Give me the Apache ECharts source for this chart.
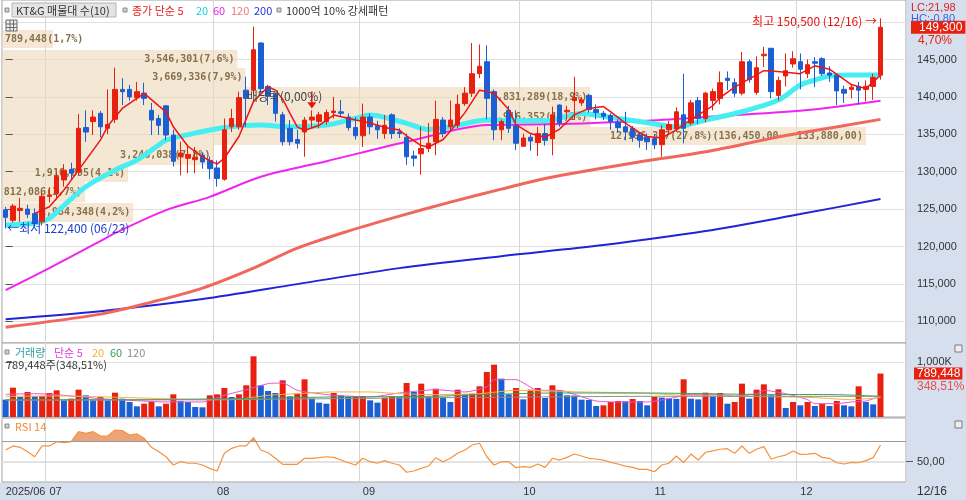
<!DOCTYPE html>
<html><head><meta charset="utf-8">
<script src="https://cdn.jsdelivr.net/npm/echarts@6/dist/echarts.min.js"></script>
<style>html,body{margin:0;padding:0;background:#fff}#c{width:966px;height:500px}</style>
</head><body><div id="c"></div>
<script>
// ---------- DATA ----------
const tradingDays = [
  ['2025/06', [23,24,25,26,27,30]],
  ['2025/07', [1,2,3,4,7,8,9,10,11,14,15,16,17,18,21,22,23,24,25,28,29,30,31]],
  ['2025/08', [1,4,5,6,7,8,11,12,13,14,18,19,20,21,22,25,26,27,28,29]],
  ['2025/09', [1,2,3,4,5,8,9,10,11,12,15,16,17,18,19,22,23,24,25,26,29,30]],
  ['2025/10', [1,2,10,13,14,15,16,17,20,21,22,23,24,27,28,29,30,31]],
  ['2025/11', [3,4,5,6,7,10,11,12,13,14,17,18,19,20,21,24,25,26,27,28]],
  ['2025/12', [1,2,3,4,5,8,9,10,11,12,15,16]]
];
const dates = tradingDays.flatMap(([m, ds]) => ds.map(d => m + '/' + String(d).padStart(2, '0')));

const openP = [124900,123500,124800,125000,124400,123300,126700,127100,128900,130300,
130000,135900,136700,137800,135800,137000,141000,141000,139900,140500,
138200,137100,138800,134900,132000,131800,131600,132200,131500,130500,
129000,136000,136000,140900,140900,147200,141400,140400,137600,135800,
134300,135300,136900,136700,136700,137900,138000,137300,135900,134800,
137300,136200,135100,137600,135300,134600,132100,132400,133100,134000,
136900,136000,136200,139100,140500,143100,144700,140700,135600,138200,
136200,133400,134600,133900,135100,134400,138900,138000,139500,139200,
140200,138300,137800,137500,136600,136000,135800,134900,134600,134400,
133600,135600,135700,137600,136500,139500,137100,139500,139800,142500,
141900,140500,144700,140600,145500,146500,140200,142800,144400,144700,
143100,144700,145100,143200,142900,141000,141000,141400,141000,141400,142900];
const closeP = [123900,125400,125100,124300,123100,126700,126900,129400,130200,129800,
135800,135300,137300,136000,136300,141000,140700,140000,140700,139800,
136900,136200,134900,131400,132500,132300,131900,131300,130400,129100,
135600,137100,139900,139800,146300,141100,140100,137800,134000,134000,
133800,136900,137300,137600,137900,138100,137800,135900,134800,137300,
136000,135600,136200,135100,135100,132000,131800,133100,133800,137000,
135100,136900,139000,140500,143100,144100,139800,135600,136700,135800,
133800,134500,134100,135100,134200,137600,136500,138200,139900,139600,
138300,137900,137400,136700,135900,135300,134600,134200,134000,133600,
135600,136300,138000,135800,139200,137100,140500,140700,141900,142200,
140500,144700,142300,143900,145700,140700,142200,143500,145100,143700,
144300,144500,143100,142900,140800,140500,141300,140900,141400,142600,149300];
const lowP = [122400,123200,123300,123800,122700,122800,125900,126300,128000,129000,
129500,134000,134900,134600,135000,136500,138900,139500,139500,138900,
134900,134900,134200,130700,129500,129800,129800,130400,129000,128000,
128800,135300,135600,136000,140200,140500,138900,136700,133500,133500,
133100,132000,135800,135800,136300,137100,137300,135500,134300,133300,
135000,134400,134400,134400,134500,130900,130700,129600,132600,132200,
134600,135500,135800,138800,140000,142500,137000,134200,134200,135200,
132900,133400,132800,132100,133500,132200,136000,137000,136900,138800,
137900,137000,136900,135600,135200,134200,134000,133200,132900,133000,
132000,135300,135300,133800,136200,136400,136600,138200,139000,140900,
140000,140200,141900,140300,144000,139800,139500,141400,143900,141000,
142500,141300,142800,142000,138900,139200,139800,139000,139400,139600,142300];
const highP = [125300,125700,126500,125600,125100,127300,127800,130000,131000,131200,
137700,138200,138200,138100,141000,143900,142500,141600,142000,141900,
139200,137600,138900,135600,134000,133600,133300,132600,132000,131500,
137100,138400,140700,142700,149400,147300,141600,140600,138000,136900,
135600,137300,138200,138000,138300,140000,139600,137800,137300,139100,
137800,136800,137600,137800,135800,135100,132800,136000,136500,139500,
137300,139500,140300,141300,147200,147000,146900,141000,137000,138800,
138200,135100,135000,136000,136400,138700,139000,138800,142700,140000,
140400,139000,138100,137800,137000,138000,136100,135300,135100,135000,
136200,136800,138600,143100,139600,140000,140700,141100,143400,143400,
142500,146000,145000,145400,146700,146500,142700,145800,146100,145800,
145000,145300,145300,144100,143100,141500,141700,142000,142200,143100,150500];

// volume in thousands of shares
const volumeK = [315,533,364,455,376,380,436,485,303,333,
497,394,303,364,303,442,333,273,194,242,
273,194,242,412,291,273,182,176,394,412,
527,364,412,576,1103,576,473,436,667,376,
424,685,333,261,242,436,394,364,376,380,
303,261,352,376,360,618,455,606,364,515,
352,273,497,412,424,558,818,952,697,412,
527,321,497,527,345,576,485,394,390,315,
310,200,212,273,291,285,327,291,212,365,
352,340,330,685,333,320,442,376,436,242,
273,606,333,497,594,394,503,164,273,212,
273,200,242,200,291,212,194,558,273,230,789.448];
const volRatioText = '348,51%';

const rsi14 = [61.3,65.2,63.9,59.7,54.8,65.2,65.2,69.3,68.4,69.3,
79,77.4,79,74.8,74.8,80.6,80,75.8,76.8,72.6,
63.9,59.7,54.8,46.8,50,48.5,48.5,46.8,43.6,41,
58.1,62.9,65.2,65.2,73.2,61.3,58.7,53.3,47.5,47.5,
47.5,53.3,53.3,53.9,54.8,54.2,51.6,49,46.8,53.3,
50,48.5,51,48.5,46.8,39.8,41,43.6,45.8,53.9,
50,53.3,58.1,61.3,66.1,67.8,54.8,46.8,50,50,
44.2,45.2,44.5,47.8,44.5,53.3,51.6,54.2,57.4,55.5,
53.3,52.6,51.6,49.3,47.8,45.8,44.5,42.6,42.6,40.3,
46.8,48.5,55.5,49,57.4,51.6,59.1,60.4,62,62.6,
58.1,65.2,58.1,62,64.6,52.6,54.8,56.4,60.4,57.1,
57.4,58.1,54.2,53.3,49,47.8,49.3,49,51,53.9,66.1];

// moving averages: [day index, value]
const ma5Pts = [[4,124420],[6,125310],[8,127540],[10,130210],[13,134220],[14,136100],[16,138460],[19,140470],[21,138800],[22,138000],[23,136000],[25,133400],[27,131990],[29,131010],[30,131800],[32,134700],[34,139400],[36,141350],[37,140900],[38,139700],[39,137800],[40,136000],[41,135500],[43,136200],[45,137570],[48,136900],[50,136500],[52,135920],[54,135560],[55,134800],[57,133500],[58,133300],[60,134300],[61,135400],[63,137900],[65,140900],[67,140500],[69,138300],[70,136300],[72,135100],[74,134600],[76,135700],[78,137600],[80,138460],[82,138700],[83,138000],[85,136500],[87,135200],[88,134700],[90,134500],[92,135600],[94,137000],[97,138800],[98,139900],[100,141300],[102,142400],[104,143500],[105,143450],[107,143300],[109,143100],[111,144150],[113,143700],[115,142350],[116,141650],[118,141100],[120,142900]];
const ma20Pts = [[0,122860],[4,123130],[6,123750],[8,125500],[11,127980],[15,130210],[18,131550],[21,133560],[22,134220],[26,135160],[30,135920],[35,136230],[39,136000],[44,136230],[48,137120],[50,137570],[52,137260],[55,136460],[58,135650],[61,136000],[66,136900],[70,136800],[74,136800],[79,137790],[83,137260],[88,136540],[92,136000],[96,136900],[101,138010],[106,139570],[109,141580],[111,142250],[113,142780],[116,142910],[120,142910]];
const ma60Pts = [[0,114170],[6,117110],[13,120720],[15,121790],[22,124860],[28,126640],[35,129320],[44,131400],[55,134000],[66,136230],[76,136360],[88,136800],[98,137430],[110,138230],[120,139480]];
const ma120Pts = [[0,109220],[13,110960],[20,112560],[27,114440],[34,117110],[40,119780],[47,122060],[54,124060],[61,125930],[68,127670],[74,129100],[87,131320],[96,132660],[105,134450],[110,135330],[120,136990]];
const ma200Pts = [[0,110290],[13,111360],[27,112970],[40,114970],[54,117110],[68,118710],[82,120190],[96,122060],[109,124330],[120,126340]];

const volMa5Pts = [[0,412],[4,424],[8,394],[13,333],[17,303],[22,273],[27,273],[30,394],[33,497],[36,606],[38,618],[40,485],[43,424],[45,394],[50,364],[54,436],[59,497],[63,455],[66,545],[67,679],[70,679],[73,485],[76,485],[78,412],[81,291],[84,273],[88,273],[91,333],[94,412],[98,412],[100,376],[103,424],[104,485],[107,424],[110,315],[111,242],[114,242],[116,273],[118,291],[120,376]];
const volMa20Pts = [[0,376],[8,382],[17,352],[27,315],[31,315],[36,394],[40,424],[45,455],[50,455],[54,424],[59,406],[65,424],[70,485],[79,455],[87,436],[93,394],[102,376],[111,352],[116,315],[120,352]];
const volMa60Pts = [[0,315],[17,315],[31,333],[45,364],[59,376],[65,406],[75,436],[88,436],[102,412],[114,406],[120,376]];
const volMa120Pts = [[0,303],[30,315],[60,352],[90,376],[120,376]];

// pattern boxes: [label, right edge (day index), low price, high price, label side]
const patternBoxes = [
  ['789,448(1,7%)', 6.5, 146520, 148930, 'L'],
  ['3,546,301(7,6%)', 31.8, 143850, 146260, 'R'],
  ['3,669,336(7,9%)', 32.9, 141310, 143850, 'R'],
  ['8,831,289(18,9%)', 80.2, 138640, 141310, 'R'],
  ['8,916,352(19,1%)', 80.2, 135960, 138640, 'R'],
  ['12,996,387(27,8%)(136,450,00 ~ 133,880,00)', 118, 133560, 135960, 'R'],
  ['3,246,038(7,8%)', 28.5, 130880, 133560, 'R'],
  ['1,910,895(4,1%)', 16.8, 128610, 130880, 'R'],
  ['812,086(1,7%)', 10.9, 125930, 128610, 'R'],
  ['1,984,348(4,2%)', 17.5, 123260, 125800, 'R']
];
const exDivIndex = 42;
const exDivLabel = '배당락(0,00%)';
const priceLabels = [110000,115000,120000,125000,130000,135000,140000,145000];
const priceGridLines = [110000,115000,120000,125000,130000,135000,140000,145000,150000];
const lcText = 'LC:21,98', hcText = 'HC:-0,80';

// ---------- BUILD ----------
const UP = '#e8200f', DOWN = '#1b5fd3';
const cats = dates.concat(['', '', '']);
const NC = cats.length;
const last = dates.length - 1;
const fmt = n => Math.round(n).toString().replace(/\B(?=(\d{3})+(?!\d))/g, ',');
const monthStart = dates.map((d, i) => i === 0 || d.slice(5, 7) !== dates[i - 1].slice(5, 7));
const candleData = dates.map((d, i) => [openP[i], closeP[i], lowP[i], highP[i]]);
const volData = volumeK.map((v, i) => ({value: v, itemStyle: {color: (i > 0 && v > volumeK[i - 1]) ? UP : DOWN}}));
let hiIdx = 0, loIdx = 0;
highP.forEach((v, i) => { if (v > highP[hiIdx]) hiIdx = i; });
lowP.forEach((v, i) => { if (v < lowP[loIdx]) loIdx = i; });
const mmdd = d => d.slice(5);
const pctChg = ((closeP[last] / closeP[last - 1] - 1) * 100).toFixed(2).replace('.', ',') + '%';

const KR = '"Noto Sans CJK KR", sans-serif';
const LS = '"Liberation Sans", Arial, sans-serif';
const CLEAR = 'rgba(0,0,0,0)';

const catAxis = (gi, showLabel) => ({
  type: 'category', gridIndex: gi, data: cats, boundaryGap: true,
  axisLine: {show: false}, axisTick: {show: false},
  axisLabel: showLabel ? {
    show: true, interval: i => !!monthStart[i], align: 'left', margin: 4,
    color: '#333', fontSize: 11, fontFamily: LS,
    formatter: (v, i) => i === 0 ? v.slice(0, 7) : v.slice(5, 7)
  } : {show: false},
  splitLine: {show: true, interval: i => i > 0 && !!monthStart[i], lineStyle: {color: '#d6d6d6', width: 1}}
});
const valAxis = gi => ({type: 'value', gridIndex: gi, min: -0.5, max: NC - 0.5, show: false});

const maLine = (pts, color, width, z, xi, yi, smooth) => ({
  type: 'line', xAxisIndex: xi, yAxisIndex: yi, data: pts, symbol: 'none', silent: true,
  smooth: smooth, lineStyle: {color: color, width: width}, z: z
});

const boxLabel = {show: true, color: '#86704a', fontFamily: '"DejaVu Sans Mono", monospace', fontSize: 10, fontWeight: 'bold', distance: 3};

const series = [
  { // pattern boxes
    type: 'line', xAxisIndex: 1, yAxisIndex: 0, data: [[0, 130000]], symbol: 'none', silent: true,
    lineStyle: {opacity: 0, width: 0}, z: 0,
    markArea: {
      silent: true, z: 0, itemStyle: {color: 'rgba(238,216,186,0.62)'}, label: boxLabel,
      data: patternBoxes.map(b => [
        {name: b[0], xAxis: -0.5, yAxis: b[2], label: {position: b[4] === 'L' ? 'insideLeft' : 'insideRight'}},
        {xAxis: b[1], yAxis: b[3]}
      ])
    }
  },
  maLine(ma200Pts, '#1f24d6', 2, 1, 1, 0, 0.3),
  maLine(ma120Pts, '#f0675c', 3, 1, 1, 0, 0.3),
  maLine(ma60Pts, '#f023f0', 2, 1, 1, 0, 0.3),
  maLine(ma20Pts, '#46eef2', 5, 1, 1, 0, 0.3),
  {
    type: 'candlestick', xAxisIndex: 0, yAxisIndex: 0, data: candleData, barWidth: 5, silent: true, z: 3,
    itemStyle: {color: UP, color0: DOWN, borderColor: UP, borderColor0: DOWN, borderWidth: 1},
    markLine: {
      silent: true, symbol: 'none', z: 10, lineStyle: {color: CLEAR, width: 1, type: 'solid'},
      label: {
        show: true, position: 'end', distance: 5,
        formatter: () => '{s| }\n{a|' + fmt(closeP[last]) + '}\n{b|' + pctChg + '}',
        rich: {
          s: {lineHeight: 14, fontSize: 10},
          a: {backgroundColor: UP, color: '#fff', fontSize: 12, fontFamily: LS, padding: [1, 3, 0, 8], lineHeight: 13},
          b: {color: UP, fontSize: 12, fontFamily: LS, padding: [0, 0, 0, 7], lineHeight: 14}
        }
      },
      emphasis: {disabled: true},
      data: [{yAxis: closeP[last]}]
    }
  },
  maLine(ma5Pts, '#ee1414', 1.5, 4, 1, 0, false),
  { // annotations
    type: 'line', xAxisIndex: 1, yAxisIndex: 0, data: [[0, 130000]], symbol: 'none', silent: true,
    lineStyle: {opacity: 0, width: 0}, z: 6,
    markPoint: {
      silent: true,
      data: [
        {coord: [exDivIndex, 139570], symbol: 'path://M3.4,0 L4.6,0 L4.6,10 L8,10 L4,16 L0,10 L3.4,10 Z', symbolSize: [9, 17],
          itemStyle: {color: '#e81010'}, label: {show: false}},
        {coord: [exDivIndex - 9, 140100], symbol: 'circle', symbolSize: 1, itemStyle: {color: CLEAR},
          label: {show: true, position: 'right', distance: 0, formatter: exDivLabel, color: '#444', fontSize: 12, fontFamily: KR}},
        {coord: [hiIdx, 150100], symbol: 'circle', symbolSize: 1, itemStyle: {color: CLEAR},
          label: {show: true, position: 'left', distance: 3, formatter: '최고 ' + fmt(highP[hiIdx]) + ' (' + mmdd(dates[hiIdx]) + ') →', color: '#e81010', fontSize: 12, fontFamily: KR}},
        {coord: [loIdx, lowP[loIdx]], symbol: 'circle', symbolSize: 1, itemStyle: {color: CLEAR},
          label: {show: true, position: 'right', distance: 1, formatter: '←최저 ' + fmt(lowP[loIdx]) + ' (' + mmdd(dates[loIdx]) + ')', color: '#1f3fcf', fontSize: 12, fontFamily: KR}}
      ]
    }
  },
  { // volume
    type: 'bar', xAxisIndex: 2, yAxisIndex: 1, data: volData, barWidth: 6, silent: true, z: 2,
    markLine: {
      silent: true, symbol: 'none', z: 10, lineStyle: {color: CLEAR, width: 1, type: 'solid'},
      label: {
        show: true, position: 'end', distance: 8,
        formatter: () => '{s| }\n{a|' + fmt(volumeK[last] * 1000) + '}\n{b|' + volRatioText + '}',
        rich: {
          s: {lineHeight: 13, fontSize: 10},
          a: {backgroundColor: UP, color: '#fff', fontSize: 12, fontFamily: LS, padding: [0, 2, 0, 3], lineHeight: 13},
          b: {color: '#e85050', fontSize: 12, fontFamily: LS, padding: [0, 0, 0, 3], lineHeight: 13}
        }
      },
      emphasis: {disabled: true},
      data: [{yAxis: volumeK[last]}]
    }
  },
  maLine(volMa5Pts, '#e455d6', 1, 3, 3, 1, 0.2),
  maLine(volMa20Pts, '#f0b43c', 1, 3, 3, 1, 0.2),
  maLine(volMa60Pts, '#3aa25a', 1, 3, 3, 1, 0.2),
  maLine(volMa120Pts, '#8f8f8f', 1, 3, 3, 1, 0.2),
  { // RSI shade above 70
    type: 'line', xAxisIndex: 4, yAxisIndex: 2, data: rsi14, symbol: 'none', silent: true,
    lineStyle: {width: 0, opacity: 0}, areaStyle: {origin: 70, opacity: 1}, z: 1
  },
  { // RSI line
    type: 'line', xAxisIndex: 4, yAxisIndex: 2, data: rsi14, symbol: 'none', silent: true,
    lineStyle: {color: '#f7913c', width: 1.2}, z: 3,
    markLine: {silent: true, symbol: 'none', label: {show: false}, lineStyle: {color: '#9a9a9a', type: 'solid', width: 1}, data: [{yAxis: 70}]}
  }
];

// ---------- GRAPHICS (panels & headers) ----------
const T = (x, y, text, fill, size, fam) => ({type: 'text', x: x, y: y, z: 20, silent: true,
  style: {text: text, fill: fill, font: (size || 11) + 'px ' + (fam || KR), verticalAlign: 'middle'}});
const sq = (x, y) => ({type: 'rect', z: 20, silent: true, shape: {x: x, y: y, width: 4, height: 4}, style: {fill: '#d0d0d0', stroke: '#8a8a8a', lineWidth: 1}});
const graphics = [
  {type: 'rect', z: -10, silent: true, shape: {x: 907, y: 0, width: 59, height: 500}, style: {fill: '#d6dfee'}},
  {type: 'rect', z: -10, silent: true, shape: {x: 0, y: 482.5, width: 966, height: 17.5}, style: {fill: '#d6dfee'}},
  sq(5, 8),
  {type: 'rect', z: 19, silent: true, shape: {x: 12, y: 3, width: 104, height: 14}, style: {fill: '#e4e4e4', stroke: '#b4b4b4', lineWidth: 1}},
  T(16, 10.5, 'KT&G 매물대 수(10)', '#333'),
  sq(123, 8),
  T(132, 10.5, '종가 단순 5', '#e82020'),
  T(196, 10.5, '20', '#12d4e4'),
  T(213, 10.5, '60', '#ee22ee'),
  T(231, 10.5, '120', '#f07474'),
  T(254, 10.5, '200', '#2233dd'),
  sq(277, 8),
  T(286, 10.5, '1000억 10% 강세패턴', '#333'),
  {type: 'rect', z: 20, silent: true, shape: {x: 6, y: 20, width: 11, height: 11}, style: {fill: '#eeeeee', stroke: '#6a6a6a', lineWidth: 1}},
  {type: 'polyline', z: 21, silent: true, shape: {points: [[6, 24], [17, 24]]}, style: {stroke: '#6a6a6a', lineWidth: 1}},
  {type: 'polyline', z: 21, silent: true, shape: {points: [[6, 27.5], [17, 27.5]]}, style: {stroke: '#6a6a6a', lineWidth: 1}},
  {type: 'polyline', z: 21, silent: true, shape: {points: [[10, 20], [10, 31]]}, style: {stroke: '#6a6a6a', lineWidth: 1}},
  {type: 'polyline', z: 21, silent: true, shape: {points: [[13.5, 20], [13.5, 31]]}, style: {stroke: '#6a6a6a', lineWidth: 1}},
  sq(5, 350),
  T(15, 352.5, '거래량', '#2e9ea6'),
  T(54, 352.5, '단순 5', '#e040d8'),
  T(92, 352.5, '20', '#f2b230'),
  T(110, 352.5, '60', '#2f9f55'),
  T(127, 352.5, '120', '#8c8c8c'),
  T(6, 364.5, fmt(volumeK[last] * 1000) + '주(' + volRatioText + ')', '#333'),
  sq(5, 424),
  T(15, 426.5, 'RSI 14', '#f08a3c'),
  T(911, 8, lcText, '#e02020', 11, LS),
  T(911, 19, hcText, '#3a64e0', 11, LS),
  T(917, 491.5, mmdd(dates[last]), '#333', 12, LS),
  {type: 'rect', z: 20, silent: true, shape: {x: 955, y: 345, width: 7, height: 7}, style: {fill: '#eeeeee', stroke: '#7a7a7a', lineWidth: 1}},
  {type: 'rect', z: 20, silent: true, shape: {x: 955, y: 421, width: 7, height: 7}, style: {fill: '#eeeeee', stroke: '#7a7a7a', lineWidth: 1}}
];

const gridBase = {left: 2, width: 904, show: true, borderColor: '#a2a2a2', borderWidth: 1, backgroundColor: '#fff'};
const option = {
  animation: false,
  backgroundColor: '#fff',
  grid: [
    Object.assign({top: 0, height: 343}, gridBase),
    Object.assign({top: 343, height: 74}, gridBase),
    Object.assign({top: 418, height: 64}, gridBase)
  ],
  xAxis: [catAxis(0, false), valAxis(0), catAxis(1, false), valAxis(1), catAxis(2, true)],
  yAxis: [
    {type: 'value', gridIndex: 0, position: 'right', min: 107100, max: 152950,
      axisLine: {show: false},
      axisTick: {show: true, length: 7, lineStyle: {color: '#555'}, customValues: priceGridLines},
      axisLabel: {customValues: priceLabels, formatter: v => fmt(v), color: '#333', fontSize: 11, fontFamily: LS, margin: 11},
      splitLine: {show: true, lineStyle: {color: '#e0e0e0'}}},
    {type: 'value', gridIndex: 1, position: 'right', min: 0, max: 1345,
      axisLine: {show: false},
      axisTick: {show: true, length: 7, lineStyle: {color: '#555'}, customValues: [1000]},
      axisLabel: {customValues: [1000], formatter: v => fmt(v) + 'K', color: '#333', fontSize: 11, fontFamily: LS, margin: 11},
      splitLine: {show: true, lineStyle: {color: '#e2e2e2'}}},
    {type: 'value', gridIndex: 2, position: 'right', min: 30.4, max: 92.2,
      axisLine: {show: false},
      axisTick: {show: true, length: 7, lineStyle: {color: '#555'}, customValues: [50]},
      axisLabel: {customValues: [50], formatter: v => v.toFixed(2).replace('.', ','), color: '#333', fontSize: 11, fontFamily: LS, margin: 11},
      splitLine: {show: true, lineStyle: {color: '#e2e2e2', width: 2}}}
  ],
  visualMap: [{
    type: 'piecewise', show: false, seriesIndex: 13, dimension: 1,
    pieces: [{gt: 70, lte: 100, color: '#eba47a'}, {gte: 0, lte: 70, color: 'rgba(255,255,255,0)'}]
  }],
  graphic: {elements: graphics},
  series: series
};
const chart = echarts.init(document.getElementById('c'));
chart.setOption(option);
</script>
</body></html>
